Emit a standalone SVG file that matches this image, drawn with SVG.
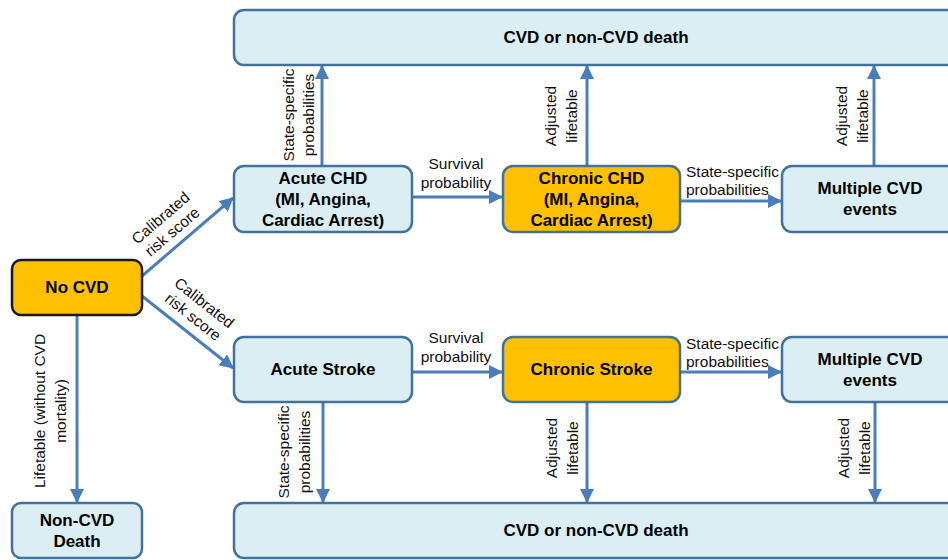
<svg xmlns="http://www.w3.org/2000/svg" width="948" height="560" viewBox="0 0 948 560">
<defs>
<marker id="ah" markerUnits="userSpaceOnUse" markerWidth="14" markerHeight="14" viewBox="0 0 14 14" refX="13" refY="7" orient="auto">
<path d="M0,0 L14,7 L0,14 Z" fill="#4A7EBB"/>
</marker>
<style>
.box{fill:#DAEEF3;stroke:#41719C;stroke-width:2.5}
.org{fill:#FFC000;stroke:#41719C;stroke-width:2.5}
.blk{fill:#FFC000;stroke:#1A1A1A;stroke-width:2.5}
.nt{font-family:"Liberation Sans",Arial,sans-serif;font-weight:bold;font-size:17px;fill:#000;text-anchor:middle}
.dt{font-family:"Liberation Sans",Arial,sans-serif;font-weight:bold;font-size:17px;fill:#000;text-anchor:middle}
.lb{font-family:"Liberation Sans",Arial,sans-serif;font-size:15.5px;fill:#111}
.c{text-anchor:middle}
.cn{fill:none;stroke:#4A7EBB;stroke-width:3;marker-end:url(#ah)}
</style>
</defs>
<rect width="948" height="560" fill="#fff"/>

<g id="connectors">
<line class="cn" x1="322" y1="166" x2="322" y2="66"/>
<line class="cn" x1="587" y1="166" x2="587" y2="66"/>
<line class="cn" x1="874" y1="166" x2="874" y2="66"/>
<line class="cn" x1="412" y1="197" x2="502" y2="197"/>
<line class="cn" x1="680" y1="201" x2="781" y2="201"/>
<line class="cn" x1="142" y1="276" x2="233" y2="198"/>
<line class="cn" x1="142" y1="296" x2="233" y2="368"/>
<line class="cn" x1="77" y1="315" x2="77" y2="502"/>
<line class="cn" x1="412" y1="372" x2="502" y2="372"/>
<line class="cn" x1="680" y1="372" x2="781" y2="372"/>
<line class="cn" x1="323" y1="402" x2="323" y2="502"/>
<line class="cn" x1="587" y1="402" x2="587" y2="502"/>
<line class="cn" x1="875" y1="402" x2="875" y2="502"/>

<text class="lb c" transform="translate(294,115) rotate(-90)"><tspan x="0" y="0">State-specific</tspan><tspan x="0" y="20">probabilities</tspan></text>
<text class="lb c" transform="translate(556,116) rotate(-90)"><tspan x="0" y="0">Adjusted</tspan><tspan x="0" y="21">lifetable</tspan></text>
<text class="lb c" transform="translate(847,116) rotate(-90)"><tspan x="0" y="0">Adjusted</tspan><tspan x="0" y="21">lifetable</tspan></text>
<text class="lb c"><tspan x="456" y="169">Survival</tspan><tspan x="456" y="188">probability</tspan></text>
<text class="lb"><tspan x="686" y="177">State-specific</tspan><tspan x="686" y="195">probabilities</tspan></text>
<text class="lb c" transform="translate(164,222) rotate(-40.6)"><tspan x="0" y="0">Calibrated</tspan><tspan x="0" y="18">risk score</tspan></text>
<text class="lb c" transform="translate(201,307) rotate(38.4)"><tspan x="0" y="0">Calibrated</tspan><tspan x="0" y="18">risk score</tspan></text>
<text class="lb c" transform="translate(45,411) rotate(-90)"><tspan x="0" y="0">Lifetable (without CVD</tspan><tspan x="0" y="21">mortality)</tspan></text>
<text class="lb c"><tspan x="456" y="343">Survival</tspan><tspan x="456" y="362">probability</tspan></text>
<text class="lb"><tspan x="686" y="349">State-specific</tspan><tspan x="686" y="367">probabilities</tspan></text>
<text class="lb c" transform="translate(289,452) rotate(-90)"><tspan x="0" y="0">State-specific</tspan><tspan x="0" y="21">probabilities</tspan></text>
<text class="lb c" transform="translate(557,448) rotate(-90)"><tspan x="0" y="0">Adjusted</tspan><tspan x="0" y="21">lifetable</tspan></text>
<text class="lb c" transform="translate(849,448) rotate(-90)"><tspan x="0" y="0">Adjusted</tspan><tspan x="0" y="21">lifetable</tspan></text>
</g>

<g id="death-top">
<rect class="box" x="234" y="10" width="724" height="55" rx="10"/>
<text class="dt" x="596" y="43">CVD or non-CVD death</text>
</g>
<g id="acute-chd">
<rect class="box" x="234" y="166" width="178" height="66" rx="10"/>
<text class="nt"><tspan x="323" y="184">Acute CHD</tspan><tspan x="323" y="205">(MI, Angina,</tspan><tspan x="323" y="226">Cardiac Arrest)</tspan></text>
</g>
<g id="chronic-chd">
<rect class="org" x="503" y="166" width="177" height="66" rx="10"/>
<text class="nt"><tspan x="591.5" y="184">Chronic CHD</tspan><tspan x="591.5" y="205">(MI, Angina,</tspan><tspan x="591.5" y="226">Cardiac Arrest)</tspan></text>
</g>
<g id="multiple-top">
<rect class="box" x="782" y="166" width="178" height="66" rx="10"/>
<text class="nt"><tspan x="870" y="194">Multiple CVD</tspan><tspan x="870" y="215">events</tspan></text>
</g>
<g id="no-cvd">
<rect class="blk" x="12" y="260" width="130" height="55" rx="9"/>
<text class="nt" x="77" y="293">No CVD</text>
</g>
<g id="non-cvd-death">
<rect class="box" x="12" y="503" width="130" height="55" rx="9"/>
<text class="nt"><tspan x="77" y="526">Non-CVD</tspan><tspan x="77" y="547">Death</tspan></text>
</g>
<g id="acute-stroke">
<rect class="box" x="234" y="337" width="178" height="65" rx="10"/>
<text class="nt" x="323" y="375">Acute Stroke</text>
</g>
<g id="chronic-stroke">
<rect class="org" x="503" y="337" width="177" height="65" rx="10"/>
<text class="nt" x="591.5" y="375">Chronic Stroke</text>
</g>
<g id="multiple-bottom">
<rect class="box" x="782" y="337" width="178" height="65" rx="10"/>
<text class="nt"><tspan x="870" y="365">Multiple CVD</tspan><tspan x="870" y="386">events</tspan></text>
</g>
<g id="death-bottom">
<rect class="box" x="234" y="503" width="724" height="55" rx="10"/>
<text class="dt" x="596" y="536">CVD or non-CVD death</text>
</g>
</svg>
